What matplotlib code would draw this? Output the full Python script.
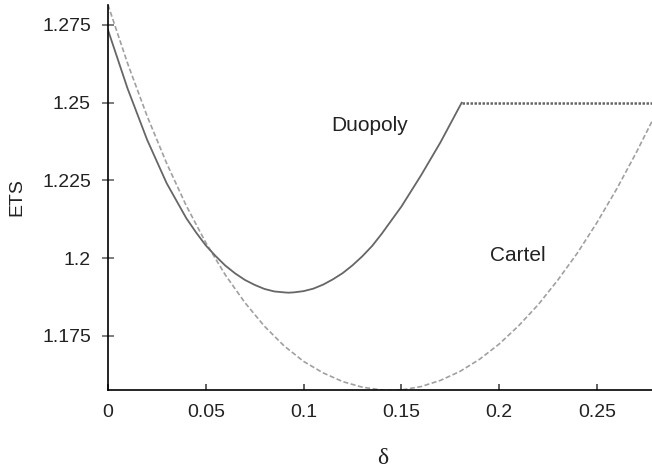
import matplotlib.pyplot as plt

# values
duo_x = [0.0, 0.01, 0.02, 0.03, 0.04, 0.045, 0.05, 0.055, 0.06, 0.065, 0.07, 0.075, 0.08,
         0.085, 0.09, 0.0922, 0.095, 0.1, 0.105, 0.11, 0.115, 0.12, 0.125, 0.13, 0.135,
         0.14, 0.15, 0.16, 0.17, 0.1808, 0.278]
duo_y = [1.2734, 1.2546, 1.2381, 1.2241, 1.2129, 1.2083, 1.2041, 1.2007, 1.1976, 1.1951, 1.1930, 1.1914, 1.1901,
         1.1893, 1.1890, 1.1889, 1.1890, 1.1894, 1.1902, 1.1915, 1.1932, 1.1952, 1.1977, 1.2006, 1.2039,
         1.2079, 1.2166, 1.2266, 1.2373, 1.25, 1.25]
kink = 29  # index where duopoly reaches 1.25

car_x = [0.0, 0.01, 0.02, 0.03, 0.04, 0.05, 0.06, 0.07, 0.08, 0.09, 0.1, 0.11,
         0.12, 0.13, 0.14, 0.1445, 0.15, 0.16, 0.17, 0.18, 0.19, 0.2, 0.21, 0.22,
         0.23, 0.24, 0.25, 0.26, 0.27, 0.278]
car_y = [1.2815, 1.2627, 1.2457, 1.2305, 1.2169, 1.2050, 1.1946, 1.1857, 1.1781, 1.1718, 1.1668, 1.1631,
         1.1603, 1.1585, 1.1576, 1.1575, 1.1576, 1.1587, 1.1607, 1.1636, 1.1675, 1.1724, 1.1783, 1.1851,
         1.1930, 1.2017, 1.2115, 1.2222, 1.2339, 1.2439]

xticks = [0, 0.05, 0.1, 0.15, 0.2, 0.25]
xlabels = ['0', '0.05', '0.1', '0.15', '0.2', '0.25']
yticks = [1.175, 1.2, 1.225, 1.25, 1.275]
ylabels = ['1.175', '1.2', '1.225', '1.25', '1.275']

plt.rcParams['font.family'] = ['Liberation Sans', 'DejaVu Sans']

fig = plt.figure(figsize=(6.52, 4.70), dpi=100)
ax = fig.add_axes([0.1656, 0.1702, 0.8344, 0.819])

ax.plot(car_x, car_y, color='#a0a0a0', lw=1.2, linestyle=(0, (3, 1.5)))
ax.plot(duo_x[:kink + 1], duo_y[:kink + 1], color='#666666', lw=1.3, solid_joinstyle='round')
ax.plot(duo_x[kink:], duo_y[kink:], color='#666666', lw=1.8, linestyle=(0, (1, 0.6)))

ax.text(0.134, 1.2428, 'Duopoly', fontsize=15, ha='center', va='center', color='#222222')
ax.text(0.2094, 1.2007, 'Cartel', fontsize=15, ha='center', va='center', color='#222222')

ax.set_xlim(0, 0.2781)
ax.set_ylim(1.1576, 1.2814)
ax.set_xticks(xticks)
ax.set_xticklabels(xlabels)
ax.set_yticks(yticks)
ax.set_yticklabels(ylabels)

for s in ['top', 'right']:
    ax.spines[s].set_visible(False)
ax.spines['left'].set_linewidth(1.2)
ax.spines['bottom'].set_linewidth(1.2)

ax.tick_params(axis='x', direction='in', length=4.5, width=1.2, color='#444444',
               labelsize=14, pad=10, labelcolor='#222222')
ax.tick_params(axis='y', direction='inout', length=8.6, width=1.2, color='#666666',
               labelsize=14, pad=8, labelcolor='#222222')

ax.set_ylabel('ETS', fontsize=14, color='#222222', labelpad=12)
fig.text(383 / 652, 1 - 458 / 470, 'δ', fontsize=17, family=['Liberation Serif', 'DejaVu Serif'],
         ha='center', va='center', color='#222222')

plt.savefig('out.png', dpi=100)
